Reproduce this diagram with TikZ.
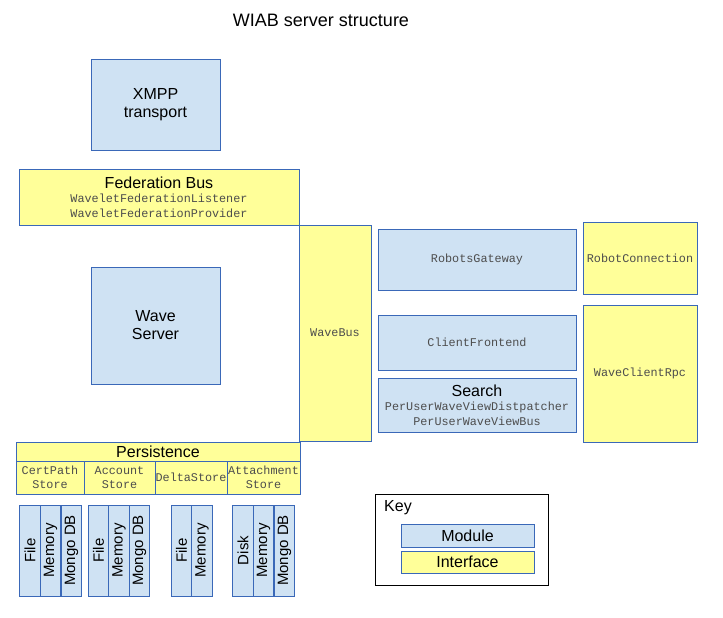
\documentclass[tikz,border=0pt]{standalone}
\usepackage{fontspec}
\setmainfont{Liberation Sans}
\setmonofont{Liberation Mono}
\usepackage{tikz}
\usetikzlibrary{positioning}
\definecolor{modfill}{HTML}{CFE2F3}
\definecolor{ifill}{HTML}{FFFF99}
\definecolor{edgeblue}{HTML}{3A68B8}
\definecolor{codegray}{HTML}{4D4D4D}
\newcommand{\codetxt}[1]{{\fontsize{11.8}{13.5}\selectfont\ttfamily\color{codegray}#1}}

\begin{document}
\begin{tikzpicture}[x=1pt,y=-1pt]
				\useasboundingbox (0,0) rectangle (723,618);
				\node (title) at (321,20) {\fontsize{18}{20}\selectfont WIAB server structure};
				\begin{scope}[every node/.style = {rectangle, draw=edgeblue, line width=0.9pt,
						inner sep=0pt, align=center, font=\fontsize{16}{18}\selectfont},
					module/.style = {fill=modfill},
					iface/.style = {fill=ifill}]
					\node[module, minimum width=129, minimum height=91] (xmpp) at (155.5,104.5) {XMPP\\transport};
					\node[iface, minimum width=280, minimum height=56] (fedbus) at (159,197)
						{Federation Bus\\[-4pt]\codetxt{WaveletFederationListener}\\[-3pt]\codetxt{WaveletFederationProvider}};
					\node[iface, minimum width=72, minimum height=216] (wavebus) at (335,333) {\codetxt{WaveBus}};
					\node[module, minimum width=129, minimum height=117] (waveserver) at (155.5,325.5) {Wave\\Server};
					\node[module, minimum width=198, minimum height=61] (robotsgw) at (477,259.5) {\codetxt{RobotsGateway}};
					\node[iface, minimum width=114, minimum height=72] (robotconn) at (640,258) {\codetxt{RobotConnection}};
					\node[module, minimum width=198, minimum height=55] (clientfe) at (477,342.5) {\codetxt{ClientFrontend}};
					\node[module, minimum width=198, minimum height=54] (search) at (477,405)
						{Search\\[-4pt]\codetxt{PerUserWaveViewDistpatcher}\\[-3pt]\codetxt{PerUserWaveViewBus}};
					\node[iface, minimum width=114, minimum height=137] (clientrpc) at (640,373.5) {\codetxt{WaveClientRpc}};
					% persistence and its stores
					\node[iface, minimum width=284, minimum height=19] (persist) at (158,451.5) {Persistence};
					\node[iface, minimum width=68, minimum height=33] (certpath) at (50,477.5) {\codetxt{CertPath}\\[-4pt]\codetxt{Store}};
					\node[iface, minimum width=71, minimum height=33] (account) at (119.5,477.5) {\codetxt{Account}\\[-4pt]\codetxt{Store}};
					\node[iface, minimum width=72, minimum height=33] (delta) at (191,477.5) {\codetxt{DeltaStore}};
					\node[iface, minimum width=73, minimum height=33] (attach) at (263.5,477.5) {\codetxt{Attachment}\\[-4pt]\codetxt{Store}};
				\end{scope}
				\begin{scope}[every node/.style = {rectangle, draw=edgeblue, line width=0.9pt, fill=modfill,
						inner sep=0pt, rotate=90, minimum width=91, minimum height=20.5,
						font=\fontsize{15}{16}\selectfont}]
					\node (certfile) at (30,550.5) {File};
					\node (certmem) at (50.5,550.5) {Memory};
					\node (certmongo) at (71.5,550.5) {Mongo DB};
					\node (accfile) at (98.5,550.5) {File};
					\node (accmem) at (119,550.5) {Memory};
					\node (accmongo) at (139.5,550.5) {Mongo DB};
					\node (deltafile) at (181.5,550.5) {File};
					\node (deltamem) at (202,550.5) {Memory};
					\node (attdisk) at (243,550.5) {Disk};
					\node (attmem) at (263.5,550.5) {Memory};
					\node (attmongo) at (284.5,550.5) {Mongo DB};
				\end{scope}
				% key
				\node[draw=black, line width=0.9pt, minimum width=173, minimum height=91] (key) at (461.5,539.5) {};
				\node[font=\fontsize{16}{17}\selectfont, anchor=west, inner sep=0pt] (keylabel) at (384,507.5) {Key};
				\begin{scope}[every node/.style = {rectangle, draw=edgeblue, line width=0.9pt,
						inner sep=0pt, minimum width=133, font=\fontsize{16}{17}\selectfont}]
					\node[fill=modfill, minimum height=23] (keymod) at (467.5,535.5) {Module};
					\node[fill=ifill, minimum height=22] (keyif) at (467.5,562) {Interface};
				\end{scope}
			\end{tikzpicture}
\end{document}
